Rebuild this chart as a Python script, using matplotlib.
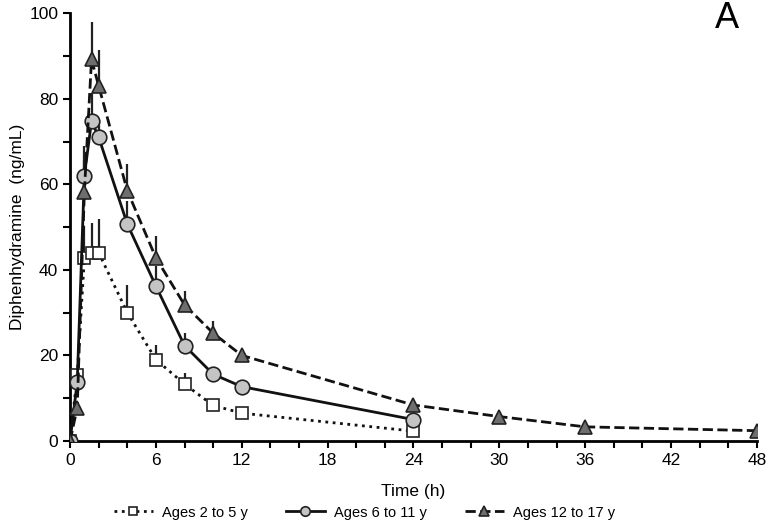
import numpy as np
import matplotlib.pyplot as plt
from matplotlib.ticker import MultipleLocator

plt.rcParams['font.family'] = ['Liberation Sans', 'DejaVu Sans']

# Time points (h)
time_young = [0, 0.5, 1, 1.5, 2, 4, 6, 8, 10, 12, 24]
time_teen = [0, 0.5, 1, 1.5, 2, 4, 6, 8, 10, 12, 24, 30, 36, 48]

# Mean concentrations (ng/mL)
conc_2_5 = [0, 15.4, 42.7, 44, 44, 30, 19, 13.3, 8.3, 6.5, 2.3]
conc_6_11 = [0, 13.8, 62, 74.8, 71, 50.7, 36.2, 22.3, 15.6, 12.7, 5]
conc_12_17 = [0, 7.8, 58.3, 89.2, 83, 58.5, 42.8, 31.8, 25.2, 20, 8.4, 5.7, 3.3, 2.4]

# Upper SD (only the upper bar is drawn)
sd_2_5 = [0, 0.8, 7.5, 7, 8, 6.5, 3.5, 2.7, 0.8, 0.6, 0.5]
sd_6_11 = [0, 0.6, 7, 6.5, 4, 5.5, 4.8, 3, 1.5, 1.2, 0.5]
sd_12_17 = [0, 0.8, 7.5, 8.8, 8.4, 6.2, 5.2, 3.3, 2.8, 1.2, 0.6, 0.3, 0.2, 0.3]

fig = plt.figure(figsize=(7.7, 5.3), dpi=100)
ax = fig.add_axes([0.091, 0.168, 0.892, 0.807])

series = [
    (time_young, conc_2_5, sd_2_5, ':', 's', 'white', 'Ages 2 to 5 y', 9),
    (time_young, conc_6_11, sd_6_11, '-', 'o', '#c4c4c4', 'Ages 6 to 11 y', 10.5),
    (time_teen, conc_12_17, sd_12_17, '--', '^', '#6e6e6e', 'Ages 12 to 17 y', 10),
]

handles = []
for t, c, sd, ls, mk, fc, lab, ms in series:
    c = np.array(c)
    sd = np.array(sd)
    ax.errorbar(t, c, yerr=[np.zeros_like(sd), sd], fmt='none', ecolor='#222222',
                elinewidth=1.6, capsize=0, zorder=2)
    h, = ax.plot(t, c, linestyle=ls, color='#111111', lw=2, marker=mk, markersize=ms,
                 markerfacecolor=fc, markeredgecolor='#222222', markeredgewidth=1.2,
                 label=lab, zorder=3)
    handles.append(h)

ax.set_xlim(0, 48)
ax.set_ylim(0, 100)
ax.xaxis.set_major_locator(MultipleLocator(6))
ax.xaxis.set_minor_locator(MultipleLocator(2))
ax.yaxis.set_major_locator(MultipleLocator(20))
ax.yaxis.set_minor_locator(MultipleLocator(10))
ax.tick_params(which='both', direction='out', width=1.5, length=5, labelsize=12.5)

for s in ['top', 'right']:
    ax.spines[s].set_visible(False)
for s in ['left', 'bottom']:
    ax.spines[s].set_linewidth(2)

ax.set_xlabel('Time (h)', fontsize=12.5, labelpad=12)
ax.set_ylabel('Diphenhydramine  (ng/mL)', fontsize=12.5, labelpad=3)

fig.text(0.944, 0.966, 'A', fontsize=26, ha='center', va='center')

fig.legend(handles=handles, loc='lower center', bbox_to_anchor=(0.473, -0.005),
           ncol=3, frameon=False, fontsize=10.5, numpoints=1, handlelength=2.7,
           handletextpad=0.6, columnspacing=2.6, markerscale=0.65)

fig.savefig('out.png', dpi=100)
